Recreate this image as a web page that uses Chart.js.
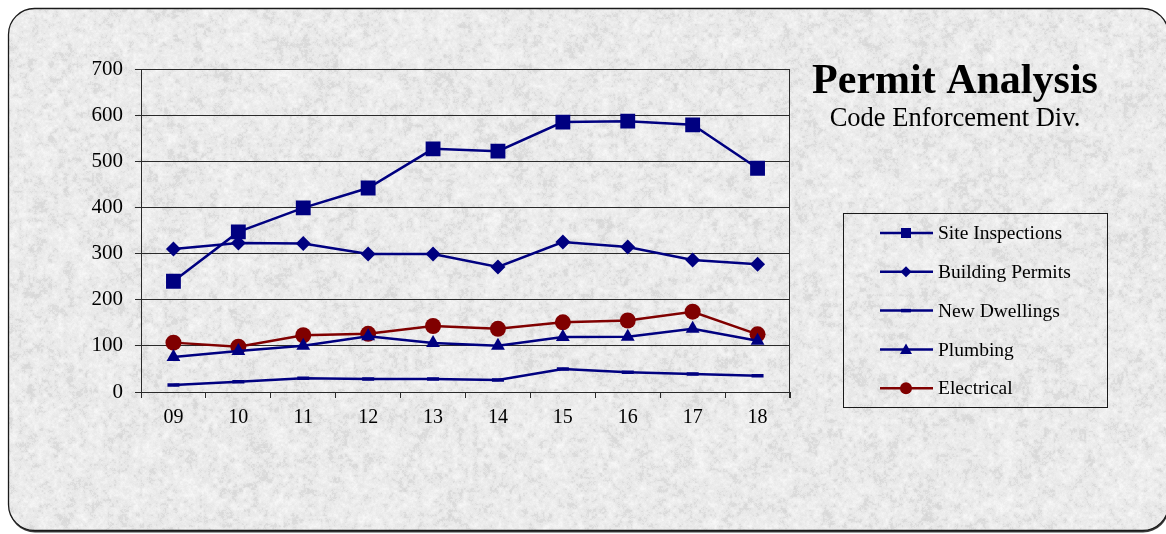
<!DOCTYPE html>
<html>
<head>
<meta charset="utf-8">
<title>Permit Analysis</title>
<script src="https://cdn.jsdelivr.net/npm/chart.js@4/dist/chart.umd.min.js"></script>
<style>
  html, body { margin: 0; padding: 0; background: #ffffff; }
  #wrap { width: 1166px; height: 534px; }
</style>
</head>
<body>
<div id="wrap"><canvas id="c" width="1166" height="534"></canvas></div>
<script>
// Fiscal years
const years = ['09', '10', '11', '12', '13', '14', '15', '16', '17', '18'];

// Yearly counts per activity
const siteInspections = [240, 347, 399, 442, 527, 522, 585, 587, 579, 485];
const buildingPermits = [310, 323, 322, 299, 299, 271, 325, 314, 286, 277];
const newDwellings    = [15, 22, 30, 28, 28, 26, 50, 43, 39, 35];
const plumbing        = [76, 89, 100, 121, 106, 100, 119, 120, 137, 111];
const electrical      = [107, 98, 123, 126, 143, 137, 151, 155, 174, 125];

const yTicks = [0, 100, 200, 300, 400, 500, 600, 700];

const NAVY = '#000080';
const MAROON = '#800000';
const SERIF = '"Liberation Serif", "Times New Roman", serif';

// Granite-like paper texture built from layered value noise (deterministic hash)
function hash(x, y, s) {
  let h = (Math.imul(x, 374761393) + Math.imul(y, 668265263) + Math.imul(s, 2147483647)) | 0;
  h = Math.imul(h ^ (h >>> 13), 1274126177);
  h = h ^ (h >>> 16);
  return (h >>> 0) / 4294967295;
}
function valueNoise(x, y, cell, seed) {
  const gx = x / cell, gy = y / cell;
  const x0 = Math.floor(gx), y0 = Math.floor(gy);
  const fx = gx - x0, fy = gy - y0;
  const sx = fx * fx * (3 - 2 * fx), sy = fy * fy * (3 - 2 * fy);
  const a = hash(x0, y0, seed), b = hash(x0 + 1, y0, seed);
  const c = hash(x0, y0 + 1, seed), d = hash(x0 + 1, y0 + 1, seed);
  const top = a + (b - a) * sx, bot = c + (d - c) * sx;
  return top + (bot - top) * sy;
}
function makeTexture(w, h) {
  const cv = document.createElement('canvas');
  cv.width = w; cv.height = h;
  const cx = cv.getContext('2d');
  const img = cx.createImageData(w, h);
  const px = img.data;
  for (let y = 0; y < h; y++) {
    for (let x = 0; x < w; x++) {
      let v = valueNoise(x, y, 14, 1) * 0.2 +
              valueNoise(x, y, 5, 2) * 0.35 +
              valueNoise(x, y, 2.2, 3) * 0.3 +
              hash(x, y, 4) * 0.15;
      v = v - 0.5;
      let g = 234 + v * 38;
      if (v < -0.14) g -= 6;
      if (g > 248) g = 248;
      if (g < 195) g = 195;
      const i = (y * w + x) * 4;
      px[i] = g; px[i + 1] = g; px[i + 2] = g; px[i + 3] = 255;
    }
  }
  cx.putImageData(img, 0, 0);
  return cv;
}
const texture = makeTexture(1166, 534);

function roundRectPath(ctx, x, y, w, h, r) {
  ctx.beginPath();
  ctx.moveTo(x + r, y);
  ctx.lineTo(x + w - r, y);
  ctx.arcTo(x + w, y, x + w, y + r, r);
  ctx.lineTo(x + w, y + h - r);
  ctx.arcTo(x + w, y + h, x + w - r, y + h, r);
  ctx.lineTo(x + r, y + h);
  ctx.arcTo(x, y + h, x, y + h - r, r);
  ctx.lineTo(x, y + r);
  ctx.arcTo(x, y, x + r, y, r);
  ctx.closePath();
}

// Background panel with rounded frame
const panelPlugin = {
  id: 'panel',
  beforeDraw(chart) {
    const ctx = chart.ctx;
    ctx.save();
    ctx.fillStyle = '#ffffff';
    ctx.fillRect(0, 0, chart.width, chart.height);
    // thin drop shadow on the lower edge
    ctx.fillStyle = '#3a3a3a';
    roundRectPath(ctx, 9, 9.5, 1160, 523, 26);
    ctx.fill();
    roundRectPath(ctx, 8.5, 8.5, 1160, 522, 26);
    ctx.save();
    ctx.clip();
    ctx.drawImage(texture, 0, 0);
    ctx.restore();
    ctx.lineWidth = 1.3;
    ctx.strokeStyle = '#1a1a1a';
    roundRectPath(ctx, 8.5, 8.5, 1160, 522, 26);
    ctx.stroke();
    ctx.restore();
  }
};

// Marker shapes used in the legend
function drawMarker(ctx, style, x, y, color) {
  ctx.fillStyle = color;
  ctx.strokeStyle = color;
  ctx.beginPath();
  if (style === 'rect') {
    ctx.rect(x - 5, y - 5, 10, 10);
    ctx.fill();
  } else if (style === 'rectRot') {
    ctx.moveTo(x, y - 5.5); ctx.lineTo(x + 5.5, y); ctx.lineTo(x, y + 5.5); ctx.lineTo(x - 5.5, y);
    ctx.closePath(); ctx.fill();
  } else if (style === 'triangle') {
    ctx.moveTo(x, y - 6); ctx.lineTo(x + 6, y + 4.5); ctx.lineTo(x - 6, y + 4.5);
    ctx.closePath(); ctx.fill();
  } else if (style === 'circle') {
    ctx.arc(x, y, 6, 0, Math.PI * 2);
    ctx.fill();
  } else if (style === 'line') {
    ctx.lineWidth = 3.5;
    ctx.moveTo(x - 5, y); ctx.lineTo(x + 5, y);
    ctx.stroke();
  }
}

// Title, subtitle, legend box and right frame of the plot
const decorPlugin = {
  id: 'decor',
  afterDraw(chart) {
    const ctx = chart.ctx;
    const area = chart.chartArea;
    ctx.save();

    // right edge of the plot frame, with its tick below the axis
    ctx.strokeStyle = '#2a2a2a';
    ctx.lineWidth = 1;
    ctx.beginPath();
    ctx.moveTo(Math.round(area.right) - 0.5, area.top);
    ctx.lineTo(Math.round(area.right) - 0.5, area.bottom + 6);
    ctx.stroke();

    // title
    ctx.fillStyle = '#000000';
    ctx.textAlign = 'center';
    ctx.textBaseline = 'alphabetic';
    ctx.font = 'bold 42px ' + SERIF;
    ctx.fillText('Permit Analysis', 955, 93);
    ctx.font = '26.5px ' + SERIF;
    ctx.fillText('Code Enforcement Div.', 955, 126);

    // legend
    const bx = 843.5, by = 213.5, bw = 264, bh = 194;
    ctx.strokeStyle = '#1a1a1a';
    ctx.lineWidth = 1;
    ctx.strokeRect(bx, by, bw, bh);
    ctx.font = '19.5px ' + SERIF;
    ctx.textAlign = 'left';
    ctx.textBaseline = 'middle';
    chart.data.datasets.forEach((ds, i) => {
      const y = 233 + i * 38.8;
      ctx.strokeStyle = ds.borderColor;
      ctx.lineWidth = 2.5;
      ctx.beginPath();
      ctx.moveTo(880, y); ctx.lineTo(933, y);
      ctx.stroke();
      drawMarker(ctx, ds.pointStyle, 906, y, ds.borderColor);
      ctx.fillStyle = '#000000';
      ctx.fillText(ds.label, 938, y + 1);
    });
    ctx.restore();
  }
};

const dataset = (label, values, color, style, radius) => ({
  label,
  data: values,
  borderColor: color,
  backgroundColor: color,
  pointBackgroundColor: color,
  pointBorderColor: color,
  pointStyle: style,
  pointRadius: radius,
  pointHoverRadius: radius,
  pointBorderWidth: style === 'line' ? 3.5 : 0,
  borderWidth: 2.5,
  tension: 0,
  fill: false
});

new Chart(document.getElementById('c'), {
  type: 'line',
  data: {
    labels: years,
    datasets: [
      dataset('Site Inspections', siteInspections, NAVY, 'rect', 10.5),
      dataset('Building Permits', buildingPermits, NAVY, 'rectRot', 7.5),
      dataset('New Dwellings', newDwellings, NAVY, 'line', 6),
      dataset('Plumbing', plumbing, NAVY, 'triangle', 8),
      dataset('Electrical', electrical, MAROON, 'circle', 8)
    ]
  },
  options: {
    responsive: false,
    devicePixelRatio: 1,
    animation: false,
    events: [],
    layout: { padding: { left: 0, top: 69, right: 376, bottom: 0 } },
    plugins: {
      legend: { display: false },
      title: { display: false },
      tooltip: { enabled: false }
    },
    scales: {
      x: {
        offset: true,
        grid: {
          offset: true,
          drawOnChartArea: false,
          drawTicks: true,
          tickLength: 6,
          color: '#2a2a2a',
          lineWidth: 1
        },
        border: { display: true, color: '#2a2a2a', width: 1 },
        ticks: {
          color: '#000000',
          font: { family: SERIF, size: 20 },
          padding: 8,
          maxRotation: 0
        },
        afterFit(scale) { scale.height = 142; }
      },
      y: {
        min: 0,
        max: 700,
        afterBuildTicks(scale) { scale.ticks = yTicks.map(v => ({ value: v })); },
        grid: {
          drawOnChartArea: true,
          drawTicks: true,
          tickLength: 6,
          color: '#2a2a2a',
          lineWidth: 1
        },
        border: { display: true, color: '#2a2a2a', width: 1 },
        ticks: {
          color: '#000000',
          font: { family: SERIF, size: 21 },
          padding: 12
        },
        afterFit(scale) { scale.width = 141; }
      }
    }
  },
  plugins: [panelPlugin, decorPlugin]
});
</script>
</body>
</html>
